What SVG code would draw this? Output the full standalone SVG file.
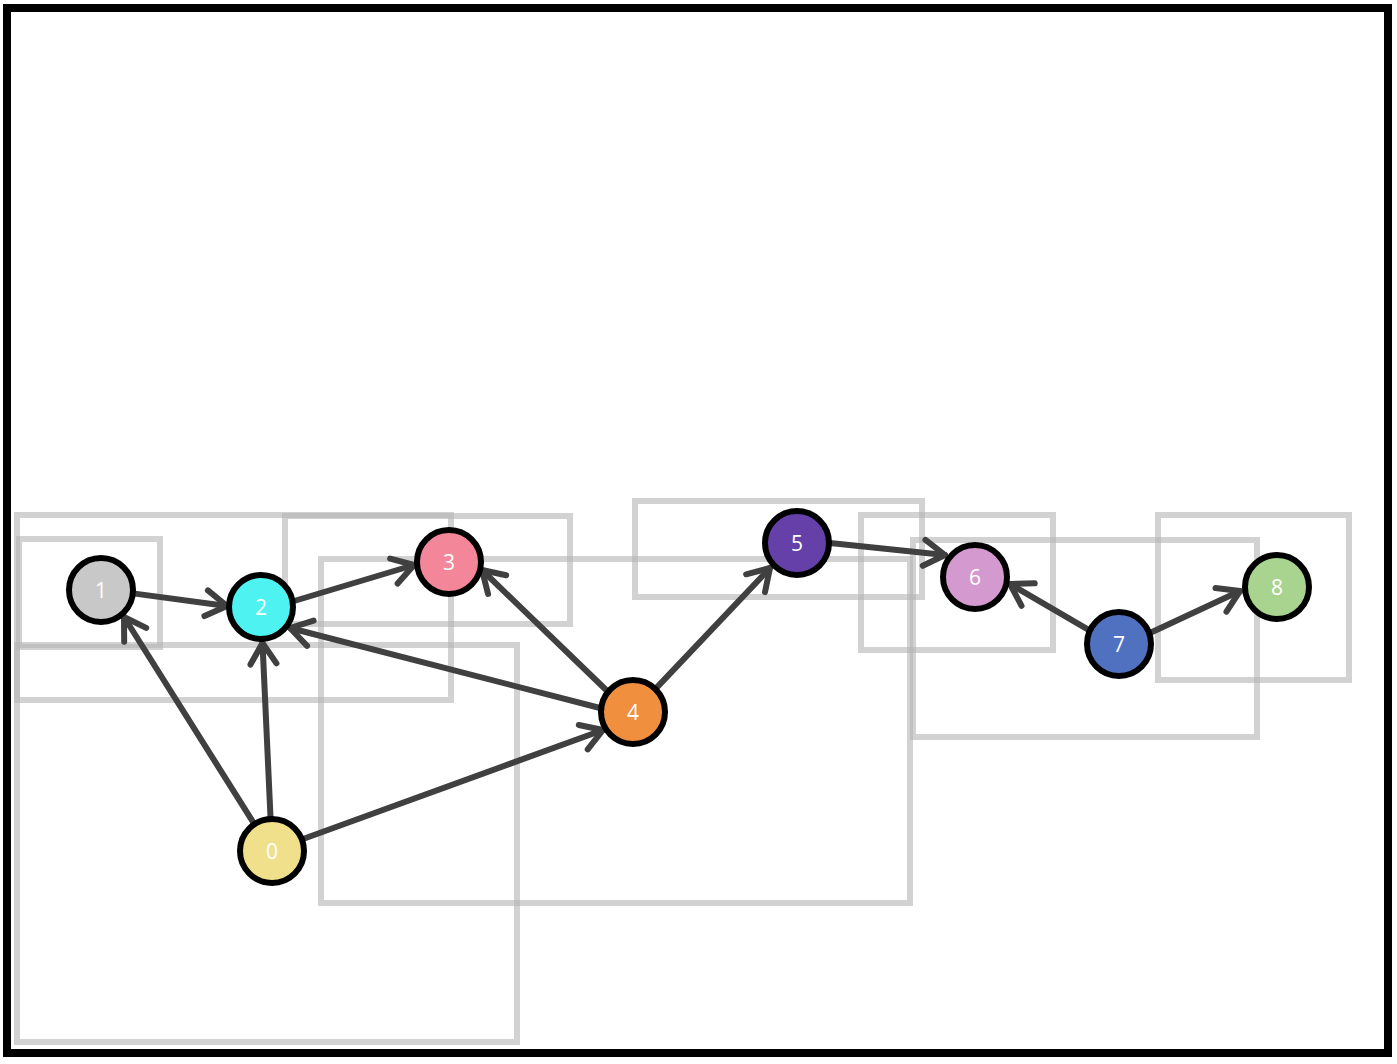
<svg xmlns="http://www.w3.org/2000/svg" width="1397" height="1064" viewBox="0 0 1397 1064">
<style>
.frame{fill:none;stroke:#b4b4b4;stroke-width:6;opacity:0.6}
.edge{fill:none;stroke:#404040;stroke-width:6;stroke-linecap:round}
.node circle{stroke:#000;stroke-width:6}
.node text{fill:#fff;font-family:"Open Sans","DejaVu Sans",sans-serif;font-size:21px;text-anchor:middle;dominant-baseline:central}
</style>
<defs>
<marker id="arr" viewBox="0 0 28 34" refX="25" refY="17" markerWidth="28" markerHeight="34" markerUnits="userSpaceOnUse" orient="auto">
<path d="M4,4 L25,17 L4,30" fill="none" stroke="#404040" stroke-width="6" stroke-linecap="round" stroke-linejoin="round"/>
</marker>
</defs>
<rect x="0" y="0" width="1397" height="1064" fill="#fff"/>
<rect x="7" y="8" width="1381" height="1045" fill="#fff" stroke="#000" stroke-width="8"/>
<g id="frames">
<rect class="frame" x="17" y="515" width="434" height="185"/>
<rect class="frame" x="19" y="539" width="141" height="108"/>
<rect class="frame" x="285" y="516" width="285" height="108"/>
<rect class="frame" x="321" y="559" width="589" height="344"/>
<rect class="frame" x="17" y="645" width="500" height="397"/>
<rect class="frame" x="635" y="501" width="287" height="96"/>
<rect class="frame" x="861" y="515" width="192" height="135"/>
<rect class="frame" x="913" y="540" width="344" height="197"/>
<rect class="frame" x="1158" y="515" width="191" height="165"/>
</g>
<g id="connectors">
<line class="edge" x1="134.8" y1="593.6" x2="227" y2="606" marker-end="url(#arr)"/>
<line class="edge" x1="294.1" y1="601" x2="414" y2="565" marker-end="url(#arr)"/>
<line class="edge" x1="253.4" y1="822.6" x2="124" y2="617" marker-end="url(#arr)"/>
<line class="edge" x1="270.5" y1="817" x2="262.5" y2="643" marker-end="url(#arr)"/>
<line class="edge" x1="303.7" y1="838.8" x2="603" y2="730" marker-end="url(#arr)"/>
<line class="edge" x1="600" y1="708" x2="290" y2="628" marker-end="url(#arr)"/>
<line class="edge" x1="606.7" y1="690.5" x2="482" y2="570" marker-end="url(#arr)"/>
<line class="edge" x1="656.7" y1="687.6" x2="770" y2="568" marker-end="url(#arr)"/>
<line class="edge" x1="830" y1="543" x2="945" y2="555" marker-end="url(#arr)"/>
<line class="edge" x1="1088.2" y1="629.7" x2="1010" y2="584" marker-end="url(#arr)"/>
<line class="edge" x1="1151" y1="632.5" x2="1240" y2="591" marker-end="url(#arr)"/>
</g>
<g id="node0" class="node"><circle cx="272" cy="851" r="32" fill="#f0e08c"/><text x="272" y="851">0</text></g>
<g id="node1" class="node"><circle cx="101" cy="590" r="32" fill="#c8c8c8"/><text x="101" y="590">1</text></g>
<g id="node2" class="node"><circle cx="261" cy="607" r="32" fill="#4ef2f0"/><text x="261" y="607">2</text></g>
<g id="node3" class="node"><circle cx="449" cy="562" r="32" fill="#f4869a"/><text x="449" y="562">3</text></g>
<g id="node4" class="node"><circle cx="633" cy="712" r="32" fill="#f0903e"/><text x="633" y="712">4</text></g>
<g id="node5" class="node"><circle cx="797" cy="543" r="32" fill="#6440a8"/><text x="797" y="543">5</text></g>
<g id="node6" class="node"><circle cx="975" cy="577" r="32" fill="#d49ad0"/><text x="975" y="577">6</text></g>
<g id="node7" class="node"><circle cx="1119" cy="644" r="32" fill="#5070c0"/><text x="1119" y="644">7</text></g>
<g id="node8" class="node"><circle cx="1277" cy="587" r="32" fill="#a8d490"/><text x="1277" y="587">8</text></g>
</svg>
